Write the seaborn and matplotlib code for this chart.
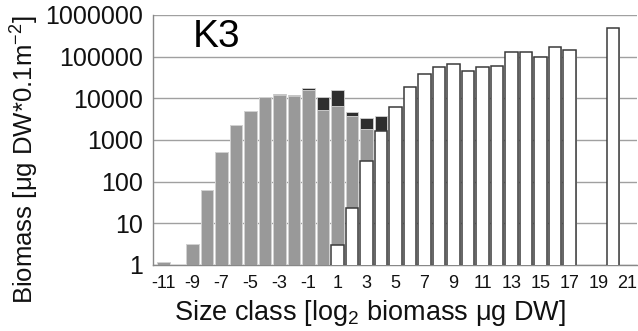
import numpy as np
import pandas as pd
import matplotlib
matplotlib.use("Agg")
import matplotlib.pyplot as plt
import matplotlib.ticker as mticker
import seaborn as sns

# Size classes (log2 biomass, µg DW)
size_class = list(range(-11, 22))

# Biomass per size class, split into three components (stacked)
white_part = [0, 0, 0, 0, 0, 0, 0, 0, 0, 0, 0, 0,
              3, 23, 320, 1650, 6200, 18400, 38000, 56000, 65000, 46000,
              56000, 59000, 130000, 130000, 100000, 170000, 145000, 0, 0,
              500000, 0]
gray_part = [1.15, 0, 3.2, 63, 505, 2250, 4950, 10800, 12300, 11600, 15800,
             5250, 6545, 3745, 1480,
             0, 0, 0, 0, 0, 0, 0, 0, 0, 0, 0, 0, 0, 0, 0, 0, 0, 0]
black_part = [0, 0, 0, 0, 0, 0, 0, 0, 300, 350, 1900, 5700, 9300, 850, 1630,
              2050, 0, 0, 0, 0, 0, 0, 0, 0, 0, 0, 0, 0, 0, 0, 0, 0, 0]

y_ticks = [1, 10, 100, 1000, 10000, 100000, 1000000]
panel_label = "K3"

labels = [str(c) for c in size_class]
df = pd.DataFrame({
    "cls": labels,
    "white": white_part,
    "gray": gray_part,
    "black": black_part,
})
df["mid"] = df["white"] + df["gray"]
df["total"] = df["mid"] + df["black"]

sns.set_style("white")
plt.rcParams["font.family"] = ["Liberation Sans", "DejaVu Sans"]
plt.rcParams["mathtext.fontset"] = "custom"
plt.rcParams["mathtext.rm"] = "Liberation Sans"
plt.rcParams["mathtext.it"] = "Liberation Sans"

fig = plt.figure(figsize=(6.38, 3.31), dpi=100)
ax = fig.add_axes([0.2398, 0.1994, 0.7586, 0.7553])
ax.set_yscale("log")

bar_w = 0.86
# Cumulative layers drawn back to front: top (black), middle (gray), base (white)
sns.barplot(data=df[df["total"] > 0], x="cls", y="total", order=labels,
            color="#2e2e2e", saturation=1, width=bar_w,
            edgecolor="#d0d0d0", linewidth=0.6, ax=ax, zorder=2)
sns.barplot(data=df[df["mid"] > 0], x="cls", y="mid", order=labels,
            color="#999999", saturation=1, width=bar_w,
            edgecolor="#d8d8d8", linewidth=0.6, ax=ax, zorder=3)
sns.barplot(data=df[df["white"] > 0], x="cls", y="white", order=labels,
            color="white", saturation=1, width=bar_w,
            edgecolor="#3a3a3a", linewidth=1.1, ax=ax, zorder=4)

ax.set_ylim(1, 1e6)
ax.set_xlim(-0.72, len(labels) - 1 + 0.65)

ax.yaxis.set_major_locator(mticker.FixedLocator(y_ticks))
ax.yaxis.set_major_formatter(mticker.FuncFormatter(lambda v, p: f"{int(round(v))}"))
ax.yaxis.set_minor_locator(mticker.NullLocator())
ax.grid(axis="y", color="#a0a0a0", linewidth=1.0)
ax.grid(axis="x", visible=False)
ax.set_axisbelow(True)

# Category boundaries as tick marks, odd classes labelled
pos = np.arange(len(labels))
ax.set_xticks(pos[::2])
ax.set_xticklabels(labels[::2])
ax.set_xticks(np.arange(-0.5, len(labels), 1.0), minor=True)
ax.tick_params(axis="x", which="major", length=0, labelsize=13, pad=7,
               labelcolor="#111111")
ax.tick_params(axis="x", which="minor", length=4, width=1, color="#888888",
               direction="out")
ax.tick_params(axis="y", which="major", length=4, width=1, color="#888888",
               labelsize=18, pad=3, labelcolor="#111111", direction="out")

for s in ["top", "right"]:
    ax.spines[s].set_visible(False)
for s in ["left", "bottom"]:
    ax.spines[s].set_color("#888888")
    ax.spines[s].set_linewidth(1.0)

ax.set_xlabel("")
ax.set_ylabel("")
fig.text(370 / 638, 1 - 320 / 331, r"Size class [log$_2$ biomass μg DW]",
         fontsize=19.5, color="#111111", ha="center", va="baseline")
fig.text(25 / 638, 1 - 160 / 331, r"Biomass [μg DW*0.1m$^{-2}$]",
         fontsize=18.5, color="#111111", ha="center", va="center", rotation=90)

ax.text(0.083, 0.87, panel_label, transform=ax.transAxes, fontsize=28,
        color="black", ha="left", va="baseline")

fig.savefig("out.png", dpi=100)
